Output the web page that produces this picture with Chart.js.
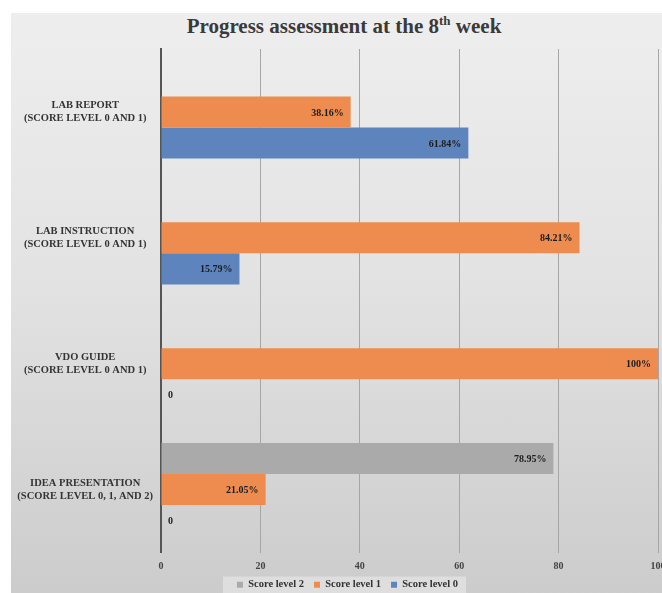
<!DOCTYPE html>
<html lang="en">
<head>
    <meta charset="UTF-8">
    <title>Progress assessment at the 8th week</title>
    <script src="https://cdn.jsdelivr.net/npm/chart.js"></script>
    <style>
        html, body {
            margin: 0;
            padding: 0;
            background: #fff;
            overflow: hidden;
            width: 662px;
            height: 593px;
        }

        .panel {
            position: absolute;
            left: 11px;
            top: 13px;
            width: 670px;
            height: 580px;
            background: linear-gradient(180deg, #eeeeee 0%, #e2e3e2 45%, #cbcccb 100%);
        }

        .chart-title {
            position: absolute;
            left: 0;
            top: 14px;
            width: 688px;
            margin: 0;
            text-align: center;
            font: bold 21px "Liberation Serif", "Times New Roman", serif;
            color: #3a3a3a;
        }

        .chart-title sup {
            font-size: 13px;
            vertical-align: 8px;
            line-height: 0;
        }

        .chart-box {
            position: absolute;
            left: 0;
            top: 0;
            width: 672px;
            height: 593px;
        }
    </style>
</head>
<body>
    <div class="panel"></div>
    <h1 class="chart-title">Progress assessment at the 8<sup>th</sup> week</h1>
    <div class="chart-box">
        <canvas id="progressChart"></canvas>
    </div>

    <script>
        const categories = [
            ['LAB REPORT', '(SCORE LEVEL 0 AND 1)'],
            ['LAB INSTRUCTION', '(SCORE LEVEL 0 AND 1)'],
            ['VDO GUIDE', '(SCORE LEVEL 0 AND 1)'],
            ['IDEA PRESENTATION', '(SCORE LEVEL 0, 1, AND 2)']
        ];
        const seriesNames = ['Score level 2', 'Score level 1', 'Score level 0'];
        const scoreLevel2 = [null, null, null, 78.95];
        const scoreLevel1 = [38.16, 84.21, 100, 21.05];
        const scoreLevel0 = [61.84, 15.79, 0, 0];
        const xTicks = [0, 20, 40, 60, 80, 100];

        const serif = '"Liberation Serif", "Times New Roman", serif';

        // draws the value text inside the end of each bar
        const barLabels = {
            id: 'barLabels',
            afterDatasetsDraw(chart) {
                const ctx = chart.ctx;
                ctx.save();
                ctx.font = 'bold 10px ' + serif;
                ctx.fillStyle = '#1c1c1c';
                ctx.textBaseline = 'middle';
                chart.data.datasets.forEach((ds, i) => {
                    const meta = chart.getDatasetMeta(i);
                    meta.data.forEach((bar, j) => {
                        const v = ds.data[j];
                        if (v === null || v === undefined) return;
                        if (v === 0) {
                            ctx.textAlign = 'left';
                            ctx.fillText('0', bar.base + 7, bar.y + 1);
                        } else {
                            ctx.textAlign = 'right';
                            ctx.fillText(v + '%', bar.x - 7, bar.y + 1);
                        }
                    });
                });
                ctx.restore();
            }
        };

        // nudge the legend right and paint the lighter box behind it
        const legendBack = {
            id: 'legendBack',
            afterLayout(chart) {
                const lg = chart.legend;
                if (!lg) return;
                lg.left += 13;
                lg.right += 13;
            },
            beforeDraw(chart) {
                const lg = chart.legend;
                if (!lg || !lg.legendHitBoxes || !lg.legendHitBoxes.length) return;
                const boxes = lg.legendHitBoxes;
                const first = boxes[0];
                const last = boxes[boxes.length - 1];
                const ctx = chart.ctx;
                ctx.save();
                ctx.fillStyle = 'rgba(255, 255, 255, 0.35)';
                ctx.fillRect(first.left - 14, first.top - 3, last.left + last.width - first.left + 22, 20);
                ctx.restore();
            }
        };

        const ctx = document.getElementById('progressChart').getContext('2d');

        new Chart(ctx, {
            type: 'bar',
            data: {
                labels: categories,
                datasets: [
                    {
                        label: seriesNames[0],
                        data: scoreLevel2,
                        backgroundColor: '#a9aaa9'
                    },
                    {
                        label: seriesNames[1],
                        data: scoreLevel1,
                        backgroundColor: '#ee8c4f'
                    },
                    {
                        label: seriesNames[2],
                        data: scoreLevel0,
                        backgroundColor: '#5e84be'
                    }
                ]
            },
            options: {
                indexAxis: 'y',
                responsive: true,
                maintainAspectRatio: false,
                animation: false,
                categoryPercentage: 0.74,
                barPercentage: 1,
                layout: {
                    padding: { top: 49, left: 11, right: 14, bottom: -7 }
                },
                plugins: {
                    title: { display: false },
                    tooltip: { enabled: false },
                    legend: {
                        position: 'bottom',
                        labels: {
                            boxWidth: 6,
                            boxHeight: 6,
                            padding: 10,
                            color: '#333',
                            font: { family: serif, size: 10.5, weight: 'bold' }
                        }
                    }
                },
                scales: {
                    x: {
                        min: 0,
                        max: 100,
                        afterBuildTicks(scale) {
                            scale.ticks = xTicks.map(v => ({ value: v }));
                        },
                        afterFit(scale) {
                            scale.paddingRight = 0;
                            scale.paddingLeft = 0;
                            scale.height -= 11;
                        },
                        border: { display: false },
                        grid: { color: '#a6a6a6', drawTicks: false },
                        ticks: {
                            padding: 8,
                            color: '#444',
                            font: { family: serif, size: 10, weight: 'bold' }
                        }
                    },
                    y: {
                        afterFit(scale) {
                            scale.width = 150;
                        },
                        border: { color: '#555', width: 2 },
                        grid: { display: false, drawTicks: false },
                        ticks: {
                            crossAlign: 'center',
                            padding: 8,
                            color: '#333',
                            font: { family: serif, size: 10.5, weight: 'bold', lineHeight: 1.25 }
                        }
                    }
                }
            },
            plugins: [legendBack, barLabels]
        });
    </script>
</body>
</html>
